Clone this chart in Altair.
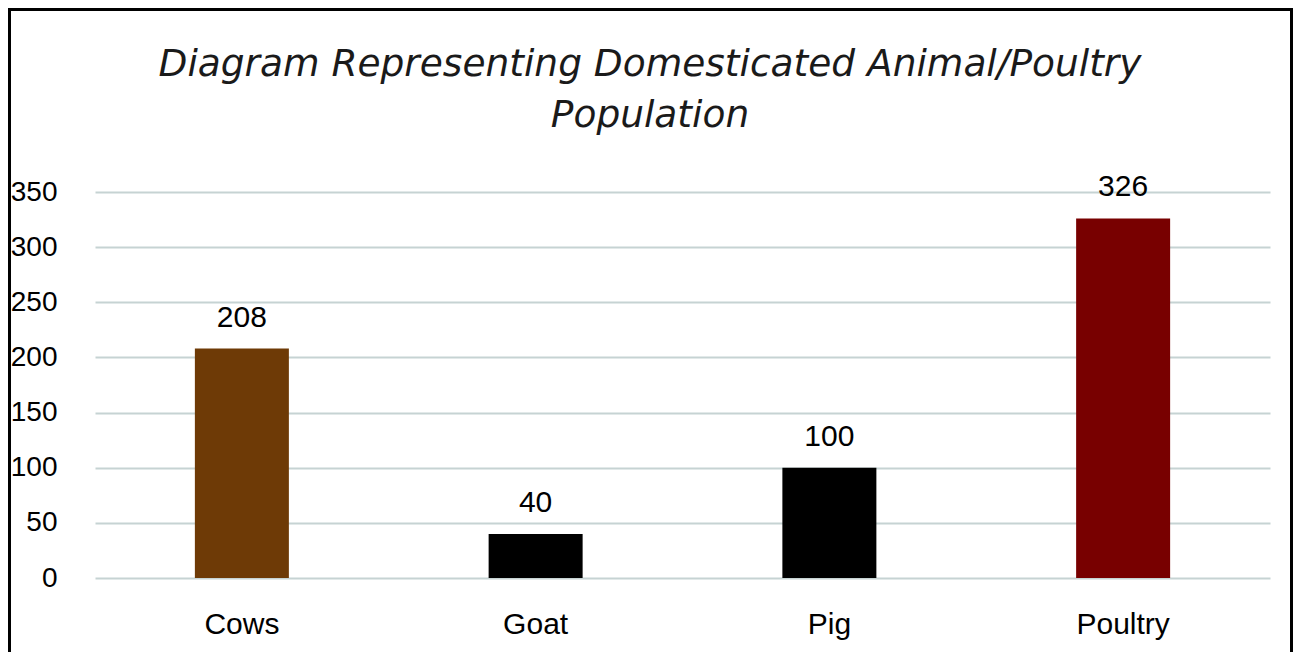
import altair as alt
import pandas as pd

categories = ["Cows", "Goat", "Pig", "Poultry"]
values = [208, 40, 100, 326]
colors = ["#6E3A06", "#000000", "#000000", "#780000"]
title_lines = ["Diagram Representing Domesticated Animal/Poultry", "Population"]

df = pd.DataFrame({"animal": categories, "count": values, "color": colors})

W, H = 1175, 386

base = alt.Chart(df).encode(
    x=alt.X("animal:N", sort=categories, title=None,
            scale=alt.Scale(paddingInner=0.68, paddingOuter=0.34),
            axis=alt.Axis(labelAngle=0, labelFont="Liberation Sans", labelFontSize=30,
                          labelColor="#000000", labelPadding=31, ticks=False, domain=False)),
    y=alt.Y("count:Q", title=None,
            scale=alt.Scale(domain=[0, 350], nice=False),
            axis=alt.Axis(values=[0, 50, 100, 150, 200, 250, 300, 350], labelFont="Liberation Sans",
                          labelFontSize=28, labelColor="#000000", labelPadding=38, ticks=False,
                          domain=False, gridColor="#c6d3d3", gridWidth=2)),
)

bars = base.mark_bar().encode(color=alt.Color("color:N", scale=None))
labels = base.mark_text(baseline="alphabetic", dy=-22, font="Liberation Sans", fontSize=30,
                        color="#000000").encode(text="count:Q")

frame = alt.Chart(pd.DataFrame({"k": [0]})).mark_rect(
    fill="transparent", stroke="#000000", strokeWidth=3
).encode(x=alt.value(-85.5), x2=alt.value(1196.5), y=alt.value(-182.5), y2=alt.value(520))

title1 = alt.Chart(pd.DataFrame({"t": [title_lines[0]]})).mark_text(
    font="DejaVu Sans", fontStyle="italic", fontSize=37.5, color="#1a1a1a",
    align="center", baseline="alphabetic"
).encode(text="t:N", x=alt.value(555), y=alt.value(-116))

title2 = alt.Chart(pd.DataFrame({"t": [title_lines[1]]})).mark_text(
    font="DejaVu Sans", fontStyle="italic", fontSize=37.5, color="#1a1a1a",
    align="center", baseline="alphabetic"
).encode(text="t:N", x=alt.value(555), y=alt.value(-65))

chart = alt.layer(bars, labels, frame, title1, title2).properties(
    width=W, height=H,
    autosize=alt.AutoSizeParams(type="none"),
    padding={"left": 87, "top": 184, "right": 23, "bottom": 74},
).configure(background="white").configure_view(stroke=None)

chart.save("out.html", embed_options={"renderer": "svg", "actions": False})
